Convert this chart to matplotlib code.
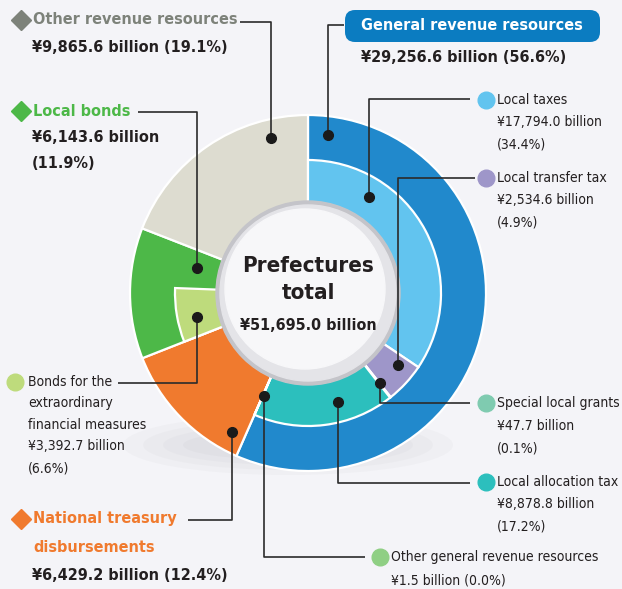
import matplotlib
matplotlib.use("Agg")
import matplotlib.pyplot as plt
from matplotlib.patches import Circle, FancyBboxPatch, Ellipse

# data (billion yen)
outer_labels = ["General revenue resources", "National treasury disbursements",
                "Local bonds", "Other revenue resources"]
outer_values = [29256.6, 6429.2, 6143.6, 9865.6]
outer_pct = [56.6, 12.4, 11.9, 19.1]

inner_labels = ["Local taxes", "Local transfer tax", "Special local grants",
                "Local allocation tax", "Other general revenue resources",
                "National treasury disbursements",
                "Bonds for the extraordinary financial measures",
                "Other local bonds", "Other revenue resources"]
inner_values = [17794.0, 2534.6, 47.7, 8878.8, 1.5, 6429.2, 3392.7, 2750.9, 9865.6]
inner_pct = [34.4, 4.9, 0.1, 17.2, 0.0, 12.4, 6.6, 5.3, 19.1]
total = 51695.0

W, H = 622, 589
BG = "#f4f4f8"
plt.rcParams["font.family"] = ["DejaVu Sans"]
plt.rcParams["font.stretch"] = "condensed"

outer_colors = ["#2189cc", "#f07a2e", "#4db848", "#dddcd0"]
inner_colors = ["#62c4ef", "#9e96c9", "#7fcbb0", "#2cbfbd", "#8fcf84",
                "#f07a2e", "#bedb7c", "#4db848", "#dddcd0"]
hidden = [5, 7, 8]

fig = plt.figure(figsize=(W / 100, H / 100), dpi=100, facecolor=BG)
ax = fig.add_axes([0, 0, 1, 1])
ax.set_facecolor(BG)

def Y(y):
    return H - y

cx, cy = 308, Y(293)
R_out, R_mid, R_in = 178, 133, 88

# soft shadow under the ring
for i, a in enumerate([0.05, 0.05, 0.05, 0.06]):
    ax.add_patch(Ellipse((cx - 20, Y(445)), 330 - i * 40, 60 - i * 10,
                         color="#9a9aa2", alpha=a, lw=0, zorder=0))

ax.pie(outer_values, radius=R_out, center=(cx, cy), startangle=90,
       counterclock=False, colors=outer_colors,
       wedgeprops=dict(width=R_out - R_in, edgecolor="white", linewidth=1.6))

wedges, _ = ax.pie(inner_values, radius=R_mid, center=(cx, cy), startangle=90,
                   counterclock=False, colors=inner_colors,
                   wedgeprops=dict(width=R_mid - R_in + 2, edgecolor="white",
                                   linewidth=1.6))
for i in hidden:
    wedges[i].set_visible(False)

# center disc
ax.add_patch(Circle((cx, cy), 92, color="#c4c4c9", zorder=5))
ax.add_patch(Circle((cx, cy), 88, color="#e4e4e8", zorder=6))
ax.add_patch(Circle((cx - 3, cy + 4), 80, color="#f7f7f9", zorder=6))
ax.text(cx, Y(266), "Prefectures", ha="center", va="center", fontsize=16,
        fontweight="bold", color="#231f20", zorder=7)
ax.text(cx, Y(293), "total", ha="center", va="center", fontsize=16,
        fontweight="bold", color="#231f20", zorder=7)
ax.text(cx, Y(326), "\u00a5{:,.1f} billion".format(total), ha="center", va="center",
        fontsize=11.5, fontweight="bold", color="#231f20", zorder=7)

LC = "#2b2b2b"

def leader(points):
    xs = [p[0] for p in points]
    ys = [Y(p[1]) for p in points]
    ax.plot(xs, ys, color=LC, lw=1.2, zorder=8, solid_capstyle="butt")
    ax.plot(xs[0], ys[0], "o", color="#1a1a1a", ms=7, zorder=9)

# leaders (anchor dot first)
leader([(271, 138), (271, 22), (240, 22)])          # other revenue
leader([(197, 268), (197, 112), (138, 112)])        # local bonds
leader([(197, 317), (197, 383), (118, 383)])        # bonds extraordinary
leader([(232, 432), (232, 520), (188, 520)])        # national treasury
leader([(264, 396), (264, 557), (365, 557)])        # other general
leader([(338, 402), (338, 483), (470, 483)])        # local allocation tax
leader([(380, 383), (380, 403), (470, 403)])        # special local grants
leader([(398, 365), (398, 178), (475, 178)])        # local transfer tax
leader([(369, 197), (369, 99), (470, 99)])          # local taxes
leader([(328, 135), (328, 25), (344, 25)])          # general revenue

def money(v):
    return "\u00a5{:,.1f} billion".format(v)

BIG = 11.6
SM = 10

def diamond(x, y, c):
    ax.plot(x, Y(y), marker="D", color=c, ms=10, zorder=9)

def dot(x, y, c):
    ax.plot(x, Y(y), marker="o", color=c, ms=12, zorder=9)

# outer categories
diamond(21, 20, "#7d827a")
ax.text(33, Y(20), outer_labels[3], fontsize=BIG, fontweight="bold",
        color="#7d827a", va="center")
ax.text(32, Y(47), money(outer_values[3]) + " ({}%)".format(outer_pct[3]),
        fontsize=BIG, fontweight="bold", color="#231f20", va="center")

diamond(21, 111, "#4db848")
ax.text(33, Y(111), outer_labels[2], fontsize=BIG, fontweight="bold",
        color="#4db848", va="center")
ax.text(32, Y(138), money(outer_values[2]), fontsize=BIG, fontweight="bold",
        color="#231f20", va="center")
ax.text(32, Y(163), "({}%)".format(outer_pct[2]), fontsize=BIG,
        fontweight="bold", color="#231f20", va="center")

diamond(21, 519, "#f07a2e")
ax.text(33, Y(519), "National treasury", fontsize=BIG, fontweight="bold",
        color="#f07a2e", va="center")
ax.text(33, Y(547), "disbursements", fontsize=BIG, fontweight="bold",
        color="#f07a2e", va="center")
ax.text(32, Y(576), money(outer_values[1]) + " ({}%)".format(outer_pct[1]),
        fontsize=BIG, fontweight="bold", color="#231f20", va="center")

ax.add_patch(FancyBboxPatch((345, Y(42)), 255, 32,
                            boxstyle="round,pad=0,rounding_size=10",
                            fc="#0b7cc1", ec="none", zorder=8))
ax.text(472, Y(26), outer_labels[0], fontsize=BIG, fontweight="bold",
        color="white", ha="center", va="center", zorder=9)
ax.text(361, Y(57), money(outer_values[0]) + " ({}%)".format(outer_pct[0]),
        fontsize=BIG, fontweight="bold", color="#231f20", va="center")

# inner items
def small_block(x, y, lines, gap=22.5):
    for k, s in enumerate(lines):
        ax.text(x, Y(y + k * gap), s, fontsize=SM, color="#231f20", va="center")

right = [(0, 100), (1, 178), (2, 403), (3, 482)]
for i, y in right:
    dot(486, y, inner_colors[i])
    small_block(497, y, [inner_labels[i], money(inner_values[i]),
                         "({}%)".format(inner_pct[i])])

dot(15, 382, inner_colors[6])
small_block(28, 382, ["Bonds for the", "extraordinary", "financial measures",
                      money(inner_values[6]), "({}%)".format(inner_pct[6])],
            gap=21.5)

dot(380, 557, inner_colors[4])
small_block(391, 557, [inner_labels[4],
                       money(inner_values[4]) + " ({}%)".format(inner_pct[4])],
            gap=24)

ax.set_xlim(0, W)
ax.set_ylim(0, H)
ax.set_aspect("equal")
ax.axis("off")
fig.savefig("out.png", dpi=100, facecolor=BG)
